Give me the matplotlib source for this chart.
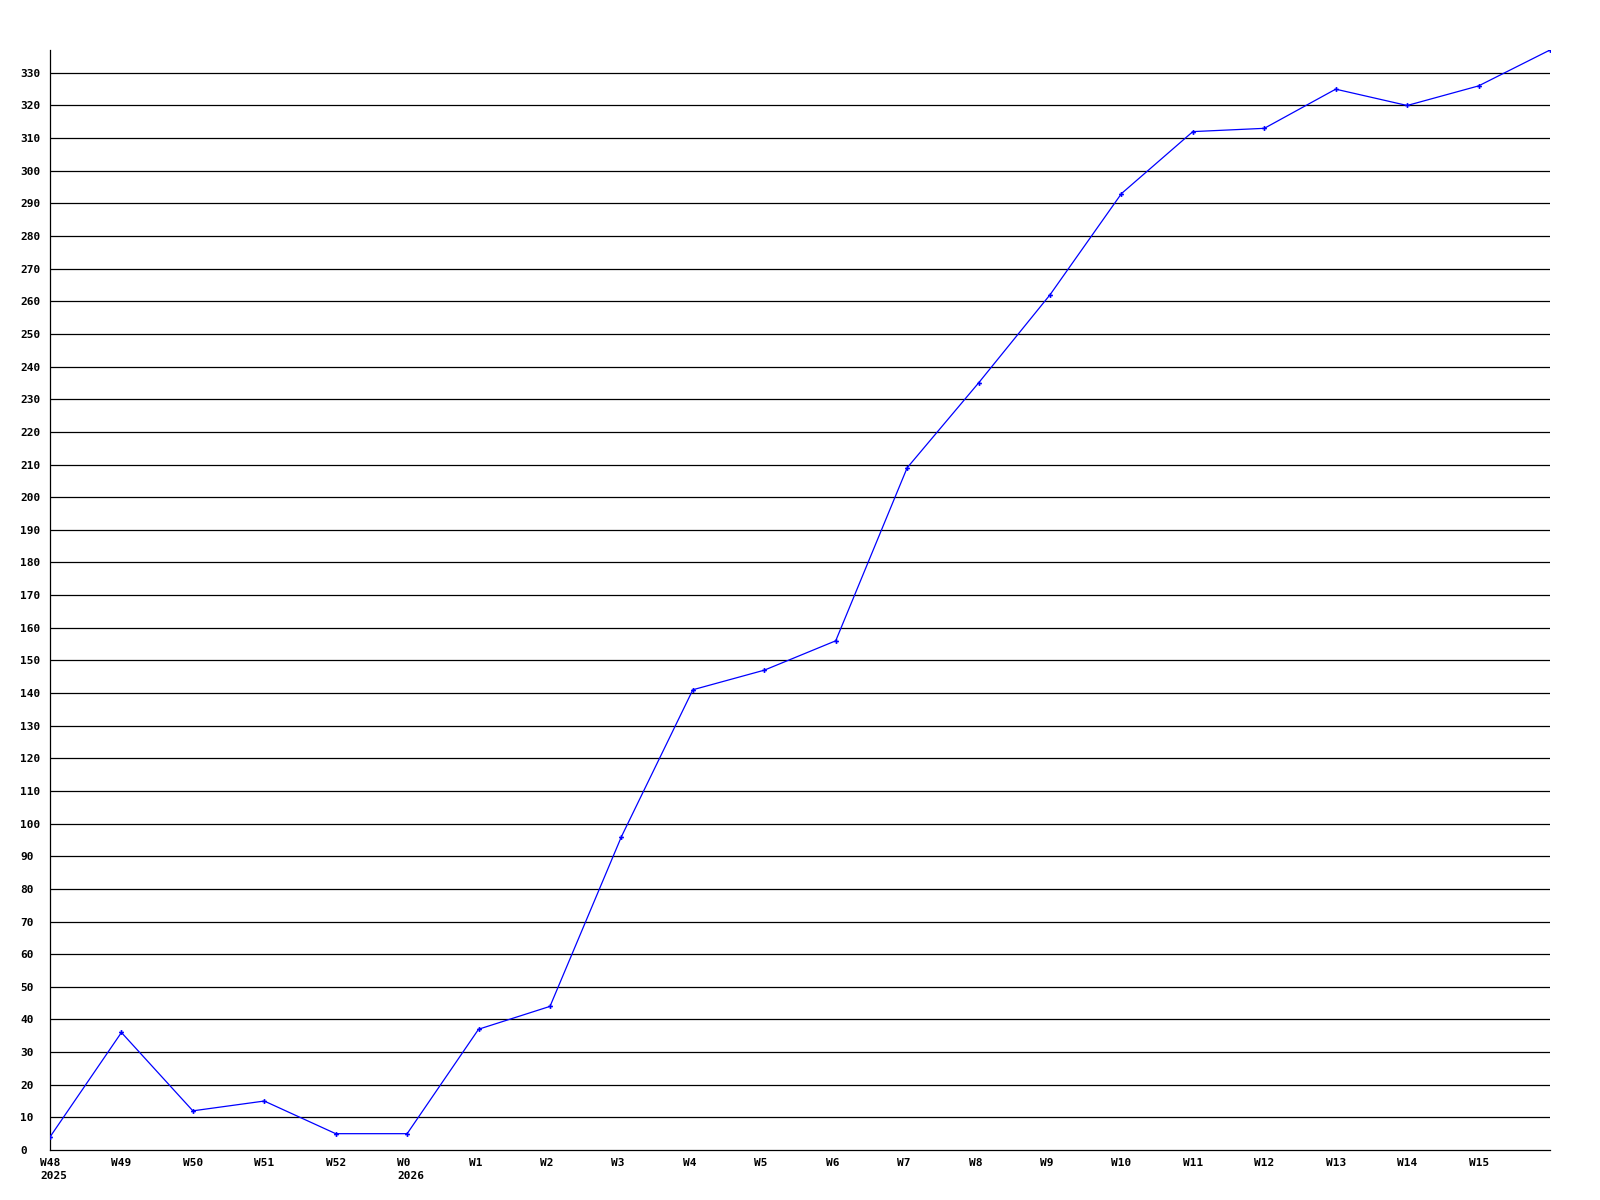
import matplotlib
matplotlib.use("Agg")
import matplotlib.pyplot as plt

weeks = ["W48", "W49", "W50", "W51", "W52", "W0", "W1", "W2", "W3", "W4", "W5",
         "W6", "W7", "W8", "W9", "W10", "W11", "W12", "W13", "W14", "W15", "W16"]
years = {"W48": "2025", "W0": "2026"}
values = [4, 36, 12, 15, 5, 5, 37, 44, 96, 141, 147,
          156, 209, 235, 262, 293, 312, 313, 325, 320, 326, 337]
yticks = list(range(0, 331, 10))

W, H = 1600, 1200
PX = 72 / 100  # points per pixel
fig = plt.figure(figsize=(16, 12), dpi=100)
ax = fig.add_axes([50 / W, 50 / H, 1500 / W, 1100 / H])

x = list(range(len(weeks)))
ax.plot(x, values, color="#0000ff", lw=0.9, marker="P", ms=3.5,
        markeredgewidth=0, zorder=3)

ax.set_xlim(0, len(weeks) - 1)
ax.set_ylim(0, 337)

for v in yticks[1:]:
    ax.axhline(v, color="black", lw=0.9, zorder=1)

for s in ["top", "right"]:
    ax.spines[s].set_visible(False)
for s in ["left", "bottom"]:
    ax.spines[s].set_linewidth(0.9)
    ax.spines[s].set_color("black")

font = dict(family="DejaVu Sans Mono", weight="bold", size=8)

# x labels: left edge 10 px left of the week position
ax.set_xticks([])
for i, w in enumerate(weeks[:-1]):
    txt = w + ("\n" + years[w] if w in years else "")
    ax.annotate(txt, xy=(i, 0), xycoords=("data", "axes fraction"),
                xytext=(-10 * PX, -8 * PX), textcoords="offset points",
                ha="left", va="top", linespacing=1.35, annotation_clip=False,
                **font)

# y labels left-aligned at x = 20 px
ax.set_yticks(yticks)
ax.set_yticklabels([str(v) for v in yticks], ha="left", **font)
ax.tick_params(axis="y", length=0, pad=30 * PX)

fig.savefig("out.png", dpi=100)
